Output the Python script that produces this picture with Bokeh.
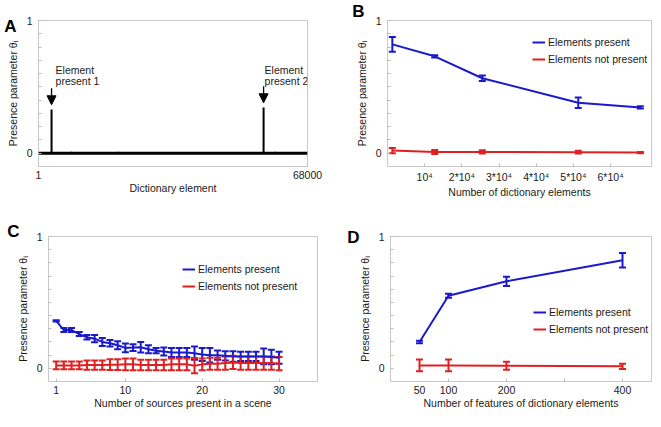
from bokeh.plotting import figure
from bokeh.models import (Range1d, FixedTicker, Label, Arrow, NormalHead, Whisker, TeeHead,
                          ColumnDataSource, Legend, LegendItem)
from bokeh.layouts import column, row
from bokeh.embed import file_html
from bokeh.resources import INLINE

# ---------------- data ----------------
# Panel A: presence parameter per dictionary element
a_dict_range = [1, 68000]
a_spike_x = [3300, 56900]
a_spike_y = [0.33, 0.345]
a_spike_names = ["present 1", "present 2"]
a_noise_x = [8300, 15700, 20200, 30800, 41000, 48500, 59900, 62900]
a_noise_y = [0.012, 0.01, 0.012, 0.01, 0.01, 0.008, 0.012, 0.01]

# Panel B: vs number of dictionary elements
b_x = [1300, 12700, 25500, 51300, 68000]
b_present = [0.82, 0.73, 0.565, 0.38, 0.345]
b_present_err = [0.055, 0.008, 0.02, 0.04, 0.008]
b_absent = [0.02, 0.01, 0.01, 0.008, 0.005]
b_absent_err = [0.02, 0.015, 0.012, 0.01, 0.005]
b_tick_values = [10000, 20000, 30000, 40000, 50000, 60000]
b_tick_labels = ["10\u2074", "2*10\u2074", "3*10\u2074", "4*10\u2074", "5*10\u2074", "6*10\u2074"]

# Panel C: vs number of sources present in a scene
c_x = list(range(1, 31))
c_present = [0.36, 0.29, 0.29, 0.26, 0.235, 0.225, 0.2, 0.19, 0.175, 0.155,
             0.157, 0.16, 0.145, 0.134, 0.127, 0.12, 0.12, 0.12, 0.115, 0.105,
             0.1, 0.1, 0.095, 0.09, 0.09, 0.09, 0.09, 0.09, 0.085, 0.08]
c_present_err = [0.005, 0.015, 0.015, 0.015, 0.017, 0.027, 0.03, 0.025, 0.03, 0.034,
                 0.025, 0.04, 0.03, 0.02, 0.03, 0.035, 0.035, 0.035, 0.05, 0.05,
                 0.055, 0.035, 0.035, 0.04, 0.035, 0.035, 0.035, 0.06, 0.055, 0.045]
c_absent = [0.022, 0.022, 0.022, 0.022, 0.025, 0.025, 0.025, 0.028, 0.028, 0.03,
            0.03, 0.025, 0.025, 0.025, 0.025, 0.03, 0.03, 0.03, 0.02, 0.03,
            0.035, 0.035, 0.04, 0.045, 0.04, 0.04, 0.04, 0.04, 0.04, 0.035]
c_absent_err = [0.03, 0.03, 0.03, 0.03, 0.035, 0.035, 0.035, 0.04, 0.04, 0.045,
                0.045, 0.04, 0.04, 0.04, 0.04, 0.045, 0.045, 0.045, 0.058, 0.045,
                0.045, 0.045, 0.05, 0.05, 0.05, 0.05, 0.05, 0.05, 0.05, 0.05]
c_tick_values = [1, 10, 20, 30]

# Panel D: vs number of features of dictionary elements
d_x = [50, 100, 200, 400]
d_present = [0.2, 0.55, 0.66, 0.82]
d_present_err = [0.01, 0.015, 0.035, 0.055]
d_absent = [0.022, 0.022, 0.02, 0.015]
d_absent_err = [0.045, 0.045, 0.03, 0.02]
d_tick_values = [50, 100, 200, 400]
d_tick_marks = [100, 200, 300, 400]

y_tick_values = [0, 1]
y_minor_ticks = [0.1, 0.2, 0.3, 0.4, 0.5, 0.6, 0.7, 0.8, 0.9]

# ---------------- style ----------------
FONT = "Liberation Sans"
BLUE = "#1a1acc"
RED = "#e02020"
TXT = "#1a1a1a"
FS = "10.5px"
Y_LABEL = "Presence parameter \u03b8\u1d62"


def base_fig(width, height, xr, bl, br, bt, bb):
    p = figure(width=width, height=height, x_range=xr, y_range=Range1d(-0.1, 1.0),
               output_backend="svg", toolbar_location=None,
               min_border_left=bl, min_border_right=br,
               min_border_top=bt, min_border_bottom=bb)
    p.grid.visible = False
    p.outline_line_color = "#c8c8c8"
    p.background_fill_color = "white"
    p.border_fill_color = "white"
    for ax in (p.xaxis[0], p.yaxis[0]):
        ax.axis_line_color = None
        ax.major_tick_in = 3
        ax.major_tick_out = 0
        ax.minor_tick_in = 3
        ax.minor_tick_out = 0
        ax.major_tick_line_color = "#bdbdbd"
        ax.minor_tick_line_color = "#bdbdbd"
        ax.major_label_text_font = FONT
        ax.major_label_text_font_size = FS
        ax.major_label_text_color = TXT
        ax.axis_label_text_font = FONT
        ax.axis_label_text_font_size = FS
        ax.axis_label_text_font_style = "normal"
        ax.axis_label_text_color = TXT
    p.xaxis[0].major_label_standoff = 4
    p.xaxis[0].axis_label_standoff = 0
    p.yaxis[0].ticker = FixedTicker(ticks=y_tick_values, minor_ticks=y_minor_ticks)
    p.yaxis[0].axis_label = Y_LABEL
    p.yaxis[0].major_label_standoff = 6
    p.yaxis[0].axis_label_standoff = 5
    return p


def panel_letter(p, letter, side, x, y):
    p.add_layout(Label(x=x, y=y, x_units="screen", y_units="screen", text=letter,
                       text_font=FONT, text_font_size="17px", text_font_style="bold",
                       text_align="center", text_baseline="middle", text_color="black"),
                 side)


def series(p, x, y, err, color):
    src = ColumnDataSource(dict(x=x, y=y,
                                upper=[v + e for v, e in zip(y, err)],
                                lower=[v - e for v, e in zip(y, err)]))
    r = p.line("x", "y", source=src, line_color=color, line_width=2)
    p.add_layout(Whisker(source=src, base="x", upper="upper", lower="lower",
                         line_color=color, line_width=2,
                         upper_head=TeeHead(size=7, line_color=color, line_width=2),
                         lower_head=TeeHead(size=7, line_color=color, line_width=2)))
    return r


def legend(p, r1, r2, loc):
    lg = Legend(items=[LegendItem(label="Elements present", renderers=[r1]),
                       LegendItem(label="Elements not present", renderers=[r2])],
                location=loc, border_line_color=None, background_fill_alpha=0,
                padding=0, margin=0, spacing=5, glyph_width=13, glyph_height=12,
                label_height=12, label_standoff=3,
                label_text_font=FONT, label_text_font_size=FS, label_text_color=TXT)
    p.add_layout(lg)


BB = 30
H1, H2 = 200, 211
FH1, FH2 = 150, 145
WL, WR = 330, 323

# ---------------- Panel A ----------------
pa = base_fig(WL, H1, Range1d(a_dict_range[0], a_dict_range[1]), 38, 23, H1 - BB - FH1, BB)
pa.xaxis[0].ticker = FixedTicker(ticks=a_dict_range)
pa.xaxis[0].axis_label = "Dictionary element"
pa.line(a_dict_range, [0, 0], line_color="black", line_width=3)
pa.segment(x0=a_noise_x, y0=[0] * len(a_noise_x), x1=a_noise_x, y1=a_noise_y,
           line_color="black", line_width=1.5)
pa.segment(x0=a_spike_x, y0=[0] * len(a_spike_x), x1=a_spike_x, y1=a_spike_y,
           line_color="black", line_width=2)
for sx, sy, name, off in zip(a_spike_x, a_spike_y, a_spike_names, [4, 1]):
    pa.add_layout(Arrow(end=NormalHead(size=9, fill_color="black", line_color="black"),
                        x_start=sx, y_start=sy + 0.16, x_end=sx, y_end=sy + 0.035,
                        line_color="black", line_width=1.3))
    pa.add_layout(Label(x=sx, y=0.63, x_offset=off, text="Element", text_font=FONT,
                        text_font_size=FS, text_color=TXT, text_baseline="middle"))
    pa.add_layout(Label(x=sx, y=0.545, x_offset=off, text=name, text_font=FONT,
                        text_font_size=FS, text_color=TXT, text_baseline="middle"))
panel_letter(pa, "A", "right", -297, 140)

# ---------------- Panel B ----------------
pb = base_fig(WR, H1, Range1d(0, 71000), 57, 2, H1 - BB - FH1, BB)
pb.xaxis[0].ticker = FixedTicker(ticks=b_tick_values)
pb.xaxis[0].major_label_overrides = dict(zip(b_tick_values, b_tick_labels))
pb.xaxis[0].axis_label = "Number of dictionary elements"
rb1 = series(pb, b_x, b_present, b_present_err, BLUE)
rb2 = series(pb, b_x, b_absent, b_absent_err, RED)
legend(pb, rb1, rb2, (145, FH1 - 20 - 29))
panel_letter(pb, "B", "left", 18, 155)

# ---------------- Panel C ----------------
pc = base_fig(WL, H2, Range1d(0, 35), 48, 13, H2 - BB - FH2, BB)
pc.xaxis[0].ticker = FixedTicker(ticks=c_tick_values)
pc.xaxis[0].axis_label = "Number of sources present in a scene"
rc1 = series(pc, c_x, c_present, c_present_err, BLUE)
rc2 = series(pc, c_x, c_absent, c_absent_err, RED)
legend(pc, rc1, rc2, (134, FH2 - 27 - 29))
panel_letter(pc, "C", "left", 12, 150)

# ---------------- Panel D ----------------
pd_ = base_fig(WR, H2, Range1d(0, 450), 60, 2, H2 - BB - FH2, BB)
pd_.xaxis[0].ticker = FixedTicker(ticks=d_tick_values, minor_ticks=d_tick_marks)
pd_.xaxis[0].major_tick_line_color = None
pd_.xaxis[0].axis_label = "Number of features of dictionary elements"
rd1 = series(pd_, d_x, d_present, d_present_err, BLUE)
rd2 = series(pd_, d_x, d_absent, d_absent_err, RED)
legend(pd_, rd1, rd2, (143, FH2 - 70 - 29))
panel_letter(pd_, "D", "left", 10, 144)

layout = column(row(pa, pb), row(pc, pd_))
open("out.html", "w").write(file_html(layout, INLINE))
